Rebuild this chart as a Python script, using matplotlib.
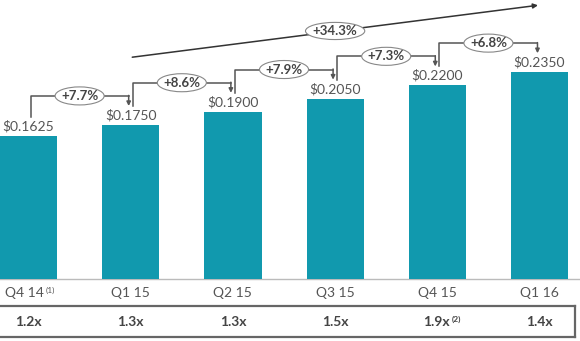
import matplotlib
matplotlib.use('Agg')
import matplotlib.pyplot as plt
from matplotlib.patches import Ellipse

quarters = ['Q4 14', 'Q1 15', 'Q2 15', 'Q3 15', 'Q4 15', 'Q1 16']
dividends = [0.1625, 0.1750, 0.1900, 0.2050, 0.2200, 0.2350]
growth = ['+7.7%', '+8.6%', '+7.9%', '+7.3%', '+6.8%']
total_growth = '+34.3%'
coverage = ['1.2x', '1.3x', '1.3x', '1.5x', '1.9x', '1.4x']
quarter_notes = {0: '(1)'}
coverage_notes = {4: '(2)'}

bar_color = '#1199AE'
text_gray = '#555555'
dark = '#444444'
line_gray = '#555555'

plt.rcParams['font.family'] = ['Lato', 'DejaVu Sans']

fig = plt.figure(figsize=(5.8, 3.41), dpi=100)
ax = fig.add_axes([0, 0, 1, 1])
ax.set_xlim(-0.279, 5.396)
ax.set_ylim(-0.0705, 0.317)
ax.axis('off')

x = list(range(len(quarters)))
ax.bar(x, dividends, width=0.56, color=bar_color, zorder=2)

# dollar labels above the bars
for i, v in zip(x, dividends):
    ax.text(i, v + 0.004, '$%.4f' % v, ha='center', va='bottom',
            fontsize=10, color=text_gray)

def pill(cx, cy, w, h, label):
    ax.add_patch(Ellipse((cx, cy), w, h, facecolor='white',
                         edgecolor='#888888', lw=0.8, zorder=4))
    ax.text(cx, cy, label, ha='center', va='center', fontsize=9.5,
            fontweight='bold', color=dark, zorder=5)

def footnote(txt, note, **kw):
    # small superscript marker right after a label
    ax.annotate(note, xy=(1, 0.75), xycoords=txt, xytext=(1.5, 0),
                textcoords='offset points', ha='left', va='center',
                fontsize=6, color=txt.get_color(), **kw)

# quarter-on-quarter growth brackets
for i, g in enumerate(growth):
    x0 = i + 0.02
    x1 = i + 1 - 0.02
    y0 = dividends[i] + 0.0215
    level = dividends[i + 1] + 0.033
    y1 = dividends[i + 1] + 0.0215
    ax.plot([x0, x0, x1], [y0, level, level], color=line_gray, lw=1.1, zorder=3)
    ax.annotate('', xy=(x1, y1), xytext=(x1, level + 0.0006),
                arrowprops=dict(arrowstyle='-|>', color=line_gray, lw=1.1,
                                mutation_scale=6, shrinkA=0, shrinkB=0))
    pill(i + 0.5, level, 0.48, 0.0205, g)

# year-on-year arrow, Q1 15 -> Q1 16
ax.annotate('', xy=(4.985, 0.311), xytext=(1.015, 0.252),
            arrowprops=dict(arrowstyle='-|>', color='#333333', lw=1.1,
                            mutation_scale=7, shrinkA=0, shrinkB=0))
pill(3.0, 0.2818, 0.58, 0.0195, total_growth)

# baseline and coverage table
ax.plot([-0.279, 5.396], [0, 0], color='#BBBBBB', lw=1, zorder=1)
for i, q in enumerate(quarters):
    if i in quarter_notes:
        t = ax.text(-0.23, -0.016, q, ha='left', va='center', fontsize=10, color=text_gray)
        footnote(t, quarter_notes[i])
    else:
        ax.text(i, -0.016, q, ha='center', va='center', fontsize=10, color=text_gray)

box_right = 5.347
ax.plot([-0.279, box_right], [-0.0307, -0.0307], color='#666666', lw=1.6)
ax.plot([-0.279, box_right], [-0.0659, -0.0659], color='#666666', lw=1.6)
ax.plot([box_right, box_right], [-0.0307, -0.0659], color='#666666', lw=1.6)

for i, c in enumerate(coverage):
    if i in coverage_notes:
        t = ax.text(i + 0.12, -0.049, c, ha='right', va='center', fontsize=10,
                    fontweight='bold', color=dark)
        footnote(t, coverage_notes[i], fontweight='bold')
    else:
        ax.text(i, -0.049, c, ha='center', va='center', fontsize=10,
                fontweight='bold', color=dark)

plt.savefig('out.png', dpi=100)
